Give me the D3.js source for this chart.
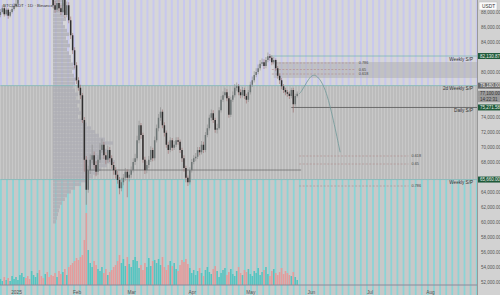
<!DOCTYPE html>
<html>
<head>
<meta charset="utf-8">
<script src="https://cdn.jsdelivr.net/npm/d3@7"></script>
<style>
  html, body { margin: 0; padding: 0; background: #d0d0d0; }
  svg { display: block; font-family: "Liberation Sans", Arial, sans-serif; }
</style>
</head>
<body>
<div id="chart"></div>
<script>
const w = 500;
const h = 295;
const plotRight = 477;
const axisY = 285;

// daily candles starting at this date
const startDate = "2024-12-24";
const firstOpen = 87600;

const closes = [88000, 88500, 87700, 88300, 87500, 88000, 88400, 88800, 89100,
  91500, 93200, 95800, 97400, 96100, 94800, 92900, 94600, 96800, 99200, 101500, 100300, 98700, 97900, 99600, 96400, 94200, 92600,
  88900, 88300, 89200, 88500, 88000, 90500, 87600, 88900, 86900, 84900, 82900, 80900, 78900, 77900, 76900, 73600, 68300, 64300,
  66900, 68300, 68900, 67600, 66700, 68300, 69600, 70300, 68900, 68300, 69600, 68500, 67600, 66900,
  66300, 65600, 64500, 65300, 65900, 66700, 65900, 66300, 66900, 68000, 68500, 70900, 72900, 71600,
  68300, 66900, 67600, 68300, 69600, 68500, 70900, 72500, 73900, 74700, 72900, 71900, 70300, 69600, 70900,
  69900, 70300, 70900, 70700, 69600, 68500, 67200, 65900, 65300, 66900, 68000, 68500, 68700, 69600, 69300,
  70300, 69600, 71600, 72500, 73900, 74500, 73600, 72300, 72500, 74900, 76300, 76900, 77300, 76500, 74300,
  76300, 76900, 77900, 78100, 77300, 76900, 77600, 76800, 76300, 77300, 78300, 78900, 79600, 80000,
  80500, 81100, 81300, 80800, 81600, 82100, 81900, 81300, 81600, 80500, 79500, 78900, 78100, 77600, 77300,
  77100, 76800, 77600, 75700, 76800, 77100];

const highs = [88400, 88900, 88800, 88600, 88500, 88300, 88800, 89200, 89600,
  92000, 93800, 96300, 98000, 97900, 96500, 95200, 95000, 97200, 99800, 102100, 102000, 100800, 99100, 100000, 100100, 96800, 94500,
  93000, 89500, 89800, 89700, 88900, 91200, 90900, 89400, 89300, 87400, 85200, 83300, 81300, 79300, 78300, 77200, 74000, 68800,
  67500, 69000, 70300, 69400, 68100, 68900, 70500, 71100, 70700, 69300, 70200, 70000, 68900, 68000,
  67300, 66800, 66000, 65900, 66400, 67200, 67000, 66800, 67400, 68500, 69100, 71500, 73500, 73200,
  71900, 68700, 68100, 68800, 70100, 69900, 71400, 73000, 74400, 75300, 75000, 73300, 72200, 70700, 71300,
  71200, 70800, 71300, 71300, 71000, 69900, 68900, 67500, 66200, 67300, 68400, 68900, 69200, 70000, 70000,
  70800, 70700, 72000, 73000, 74300, 75000, 74900, 73900, 73100, 75300, 76800, 77400, 77900, 77700, 76800,
  76700, 77400, 78400, 78600, 78400, 77700, 78000, 77900, 77100, 77600, 78700, 79400, 80100, 80500,
  81000, 81600, 81800, 81700, 82000, 82600, 82400, 82200, 82000, 81800, 80800, 79800, 79200, 78400, 77900,
  77600, 77400, 77900, 77900, 77100, 77400];

const lows = [87300, 87800, 87400, 87500, 87100, 87300, 87800, 88200, 88600,
  88900, 91200, 92900, 95400, 95600, 94300, 92400, 92600, 94200, 96500, 98900, 99800, 98200, 97300, 97500, 95900, 93700, 91900,
  88500, 87900, 88000, 88100, 87600, 87800, 87200, 87300, 86500, 84400, 82400, 80500, 78400, 77500, 76400, 73200, 66700, 62300,
  63900, 66400, 67800, 67100, 66100, 66300, 67900, 69200, 68400, 67700, 67900, 68000, 67100, 66300,
  65800, 65100, 63700, 64100, 64900, 65500, 63300, 65400, 65900, 66600, 67600, 68200, 70500, 71100,
  67900, 66400, 66500, 67200, 68000, 68100, 68200, 70600, 72100, 73500, 72500, 71400, 69900, 69100, 69300,
  69500, 69600, 70000, 70300, 69200, 68000, 66700, 65300, 64800, 65000, 66600, 67700, 68100, 68400, 68900,
  69000, 69200, 69300, 71300, 72200, 73500, 73200, 71900, 71800, 72300, 74600, 76000, 76600, 76100, 73900,
  74000, 76000, 76600, 77500, 76900, 76500, 76600, 76400, 75800, 76000, 77000, 78000, 78600, 79300,
  79700, 80200, 80800, 80400, 80500, 81300, 81500, 80900, 81000, 80100, 79100, 78400, 77700, 77200, 76900,
  76700, 76400, 76500, 74600, 75400, 76600];

const volumes = [6, 4, 8, 5, 7, 4, 9, 6, 8,
  5, 10, 12, 8, 7, 9, 6, 14, 10, 8, 12, 15, 9, 7, 11, 13, 8, 10,
  9, 12, 8, 14, 11, 13, 16, 10, 18, 20, 22, 24, 27, 25, 28, 30, 45, 72,
  35, 22, 18, 24, 20, 16, 14, 18, 12, 16, 10, 13, 15, 18,
  20, 24, 30, 22, 26, 19, 28, 21, 18, 25, 28, 24, 17, 20, 15, 22, 18, 27, 19, 24,
  25, 22, 26, 20, 28, 18, 15, 20, 24, 19, 22, 16, 14, 20, 25, 23, 26, 21, 17, 12, 15,
  10, 14, 17, 12, 9, 15, 18, 13, 11, 16, 19, 14, 8, 12, 15, 17, 10, 13, 16, 11, 9, 14, 18, 12, 10, 15, 13, 16, 11, 9,
  14, 12, 17, 10, 13, 15, 18, 11, 9, 14, 16, 12, 10, 13, 17, 11, 14, 12, 10, 9, 13, 8, 5];

// visible range volume profile, rows of 500 from the top price down
const profileTop = 89500;
const profileStep = 500;
const profile = [10, 12, 9, 14, 11, 13, 10, 12, 14, 16, 13, 15, 17, 14, 16, 18,
  18, 20, 22, 19, 21, 24, 22, 20, 22, 25, 23, 27, 24, 26, 28, 25,
  30, 34, 38, 42, 46, 52, 60, 48, 55, 50, 58, 62, 54, 48, 44, 40,
  34, 28, 22, 18, 14, 12, 9, 7, 6, 5, 4, 3];

// projected path
const projDates = ["2025-05-26", "2025-05-27", "2025-05-31", "2025-06-03", "2025-06-08", "2025-06-12", "2025-06-16"];
const projPrices = [77100, 77300, 79200, 79900, 78300, 74300, 69300];

const monthDates = ["2025-01-01", "2025-02-01", "2025-03-01", "2025-04-01", "2025-05-01", "2025-06-01", "2025-07-01", "2025-08-01"];
const monthLabels = ["2025", "Feb", "Mar", "Apr", "May", "Jun", "Jul", "Aug"];
const priceTicks = [88000, 86000, 84000, 80000, 74000, 72000, 70000, 68000, 64000, 62000, 60000, 58000, 56000, 54000, 52000];

// support / resistance levels
const levelPrices = [82130.87, 78180.00, 75271.58, 65660.00];
const levelNames = ["Weekly S/P", "2d Weekly S/P", "Daily S/P", "Weekly S/P"];
const levelFrom = ["2025-05-11", "2024-12-24", "2025-05-22", "2024-12-24"];
const fibUpper = [81200, 80330, 79730];
const fibUpperNames = ["0.786", "0.65", "0.618"];
const fibLower = [68800, 67730, 64800];
const fibLowerNames = ["0.618", "0.65", "0.786"];

const parse = d3.timeParse("%Y-%m-%d");
const fmt = d3.format(",.2f");

const xScale = d3.scaleTime()
  .domain([parse("2025-01-01"), parse("2025-08-01")])
  .range([16, 430]);
const yScale = d3.scaleLinear().domain([51600, 89600]).range([axisY, 0]);
const vScale = d3.scaleLinear().domain([0, 100]).range([axisY, axisY - 100]);
const pScale = d3.scaleLinear().domain([0, 100]).range([53, 153]);

const t0 = parse(startDate);
const candles = closes.map((c, i) => ({
  date: d3.timeDay.offset(t0, i),
  open: i === 0 ? firstOpen : closes[i - 1],
  close: c,
  high: highs[i],
  low: lows[i],
  vol: volumes[i]
}));

const svg = d3.select("#chart").append("svg").attr("width", w).attr("height", h);
svg.append("defs").append("clipPath").attr("id", "plot")
  .append("rect").attr("x", 0).attr("y", 0).attr("width", plotRight).attr("height", axisY);

// background bands
svg.append("rect").attr("width", w).attr("height", h).attr("fill", "#d6d6d8");
const zoneTop = yScale(levelPrices[1]);
const zoneBot = yScale(levelPrices[3]);
const stripes = d3.range(0, plotRight, 6.1);
const fine = d3.range(0, plotRight, 3);

svg.append("g").selectAll("rect").data(stripes).join("rect")
  .attr("x", (d) => d).attr("y", 0).attr("width", 2).attr("height", zoneTop)
  .attr("fill", "#c8c8ee");
svg.append("rect").attr("x", 0).attr("y", zoneTop).attr("width", plotRight).attr("height", zoneBot - zoneTop)
  .attr("fill", "#bcbcbc");
svg.append("g").selectAll("rect").data(fine).join("rect")
  .attr("x", (d) => d).attr("y", zoneTop).attr("width", 1).attr("height", zoneBot - zoneTop)
  .attr("fill", "#c8c8c8");
svg.append("rect").attr("x", 0).attr("y", zoneBot).attr("width", plotRight).attr("height", h - zoneBot)
  .attr("fill", "#c8c8c8");
svg.append("g").selectAll("rect").data(stripes).join("rect")
  .attr("x", (d) => d).attr("y", zoneBot).attr("width", 1.8).attr("height", h - zoneBot)
  .attr("fill", "#8ad4d6");

const plot = svg.append("g").attr("clip-path", "url(#plot)");

// zone near the top
plot.append("rect")
  .attr("x", xScale(parse("2025-05-13"))).attr("y", yScale(81330))
  .attr("width", plotRight - xScale(parse("2025-05-13"))).attr("height", yScale(79200) - yScale(81330))
  .attr("fill", "#a8a8a8").attr("opacity", 0.45);

// volume profile
plot.append("g").selectAll("rect").data(profile).join("rect")
  .attr("x", pScale(0))
  .attr("y", (d, i) => yScale(profileTop - i * profileStep) - 1.9)
  .attr("width", (d) => pScale(d) - pScale(0))
  .attr("height", 3.4)
  .attr("fill", "#acacb4").attr("opacity", 0.75);

// volume bars
plot.append("g").selectAll("rect").data(candles).join("rect")
  .attr("x", (d) => xScale(d.date) - 0.8)
  .attr("y", (d) => vScale(d.vol))
  .attr("width", 1.6)
  .attr("height", (d) => axisY - vScale(d.vol))
  .attr("fill", (d) => (d.close >= d.open ? "#56c4c0" : "#e49c9c"));

// level lines
levelPrices.forEach((p, i) => {
  plot.append("line")
    .attr("x1", xScale(parse(levelFrom[i]))).attr("x2", plotRight)
    .attr("y1", yScale(p)).attr("y2", yScale(p))
    .attr("stroke", i === 2 ? "#555" : "#7fb7b7").attr("stroke-width", 0.8);
  svg.append("text")
    .attr("x", plotRight - 4).attr("y", yScale(p) + 4.5)
    .attr("text-anchor", "end").attr("font-size", 4.6).attr("fill", "#333")
    .text(levelNames[i]);
});
plot.append("line")
  .attr("x1", xScale(parse("2025-02-06"))).attr("x2", xScale(parse("2025-05-27")))
  .attr("y1", yScale(66930)).attr("y2", yScale(66930))
  .attr("stroke", "#666").attr("stroke-width", 0.7);

// fib lines
function fibs(prices, names, from, to) {
  prices.forEach((p, i) => {
    plot.append("line")
      .attr("x1", xScale(parse(from))).attr("x2", xScale(parse(to)))
      .attr("y1", yScale(p)).attr("y2", yScale(p))
      .attr("stroke", "#b08888").attr("stroke-width", 0.6).attr("stroke-dasharray", "2,1.5");
    svg.append("text")
      .attr("x", xScale(parse(to)) + 3).attr("y", yScale(p) + 1.4)
      .attr("font-size", 3.8).attr("fill", "#444").text(names[i]);
  });
}
fibs(fibUpper, fibUpperNames, "2025-05-12", "2025-06-24");
fibs(fibLower, fibLowerNames, "2025-05-26", "2025-07-21");

// candles
const cg = plot.append("g");
cg.selectAll("line").data(candles).join("line")
  .attr("x1", (d) => xScale(d.date)).attr("x2", (d) => xScale(d.date))
  .attr("y1", (d) => yScale(d.high)).attr("y2", (d) => yScale(d.low))
  .attr("stroke", (d) => (d.close >= d.open ? "#8a8a8a" : "#9a6a6a")).attr("stroke-width", 0.6);
cg.selectAll("rect").data(candles).join("rect")
  .attr("x", (d) => xScale(d.date) - 0.75)
  .attr("y", (d) => yScale(Math.max(d.open, d.close)))
  .attr("width", 1.5)
  .attr("height", (d) => Math.max(0.8, Math.abs(yScale(d.open) - yScale(d.close))))
  .attr("fill", (d) => (d.close >= d.open ? "#6e7676" : "#2e2e2e"));

// projection
const proj = projDates.map((d, i) => [xScale(parse(d)), yScale(projPrices[i])]);
plot.append("path").attr("d", d3.line().curve(d3.curveBasis)(proj))
  .attr("fill", "none").attr("stroke", "#6f9898").attr("stroke-width", 0.8);

// x axis
const xAxis = d3.axisBottom(xScale)
  .tickValues(monthDates.map(parse))
  .tickFormat((d, i) => monthLabels[i])
  .tickSize(0);
const gx = svg.append("g").attr("transform", `translate(0,${axisY})`).call(xAxis);
gx.select(".domain").attr("stroke", "#8a8a9a").attr("d", `M0,0H${plotRight}`);
gx.selectAll("text").attr("font-size", 4.8).attr("fill", "#555").attr("dy", 6);

// price axis
svg.append("rect").attr("x", plotRight).attr("y", 0).attr("width", w - plotRight).attr("height", h).attr("fill", "#d2d2d2");
svg.append("line").attr("x1", plotRight + 0.5).attr("x2", plotRight + 0.5).attr("y1", 0).attr("y2", h)
  .attr("stroke", "#8a8a8a").attr("stroke-width", 0.8);
const yAxis = d3.axisRight(yScale).tickValues(priceTicks).tickFormat(fmt).tickSize(0);
const gy = svg.append("g").attr("transform", `translate(${plotRight + 1},0)`).call(yAxis);
gy.select(".domain").remove();
gy.selectAll("text").attr("font-size", 4.5).attr("fill", "#555").attr("x", 3);

// price tags
function tag(price, text, bg, fg, dy) {
  const y = yScale(price) + (dy || 0);
  svg.append("rect").attr("x", plotRight + 1).attr("y", y - 3).attr("width", 22).attr("height", 6).attr("fill", bg);
  svg.append("text").attr("x", plotRight + 3).attr("y", y + 1.7)
    .attr("font-size", 4.5).attr("fill", fg).text(text);
}
tag(levelPrices[0], fmt(levelPrices[0]), "#1f5a3a", "#e8f0e8");
tag(levelPrices[1], fmt(levelPrices[1]), "#6b6b6b", "#f0f0f0");
tag(closes[closes.length - 1], fmt(closes[closes.length - 1]), "#9a9a9a", "#333");
tag(closes[closes.length - 1], "14:22:31", "#9a9a9a", "#333", 5.5);
tag(levelPrices[2], fmt(levelPrices[2]), "#1f5a3a", "#e8f0e8");
tag(levelPrices[3], fmt(levelPrices[3]), "#1f5a3a", "#e8f0e8");

// currency box and title
svg.append("rect").attr("x", 479).attr("y", 2).attr("width", 18).attr("height", 8)
  .attr("fill", "#fafafa").attr("stroke", "#bbb").attr("stroke-width", 0.5);
svg.append("text").attr("x", 482).attr("y", 7.8).attr("font-size", 4.8).attr("fill", "#333").text("USDT");
svg.append("text").attr("x", 3).attr("y", 7).attr("font-size", 4.4).attr("fill", "#333")
  .text("BTCUSDT · 1D · Binance");
</script>
</body>
</html>
